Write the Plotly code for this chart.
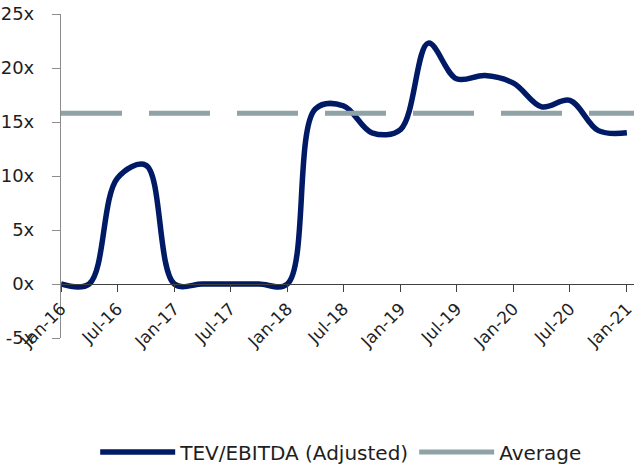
import plotly.graph_objects as go

dates = ["2016-01-01", "2016-04-01", "2016-07-01", "2016-10-01",
         "2017-01-01", "2017-04-01", "2017-07-01", "2017-10-01",
         "2018-01-01", "2018-04-01", "2018-07-01", "2018-10-01",
         "2019-01-01", "2019-04-01", "2019-07-01", "2019-10-01",
         "2020-01-01", "2020-04-01", "2020-07-01", "2020-10-01",
         "2021-01-01"]
tev_ebitda = [0.0, 0.0, 9.8, 11.0,
              0.0, 0.0, 0.0, 0.0,
              0.0, 16.2, 16.5, 14.0,
              14.3, 22.3, 19.0, 19.3,
              18.6, 16.4, 17.0, 14.2,
              14.0]
average_value = 15.8
x_end = "2021-01-24"

y_ticks = [-5, 0, 5, 10, 15, 20, 25]
y_tick_labels = ["-5x", "0x", "5x", "10x", "15x", "20x", "25x"]

FONT = "DejaVu Sans"
TEXT = "#1e1e1e"
NAVY = "#001a66"
GREY = "#8fa3a6"

fig = go.Figure()
fig.add_trace(go.Scatter(
    x=dates, y=tev_ebitda, mode="lines", name="TEV/EBITDA (Adjusted)",
    line=dict(color=NAVY, width=5.5, shape="spline", smoothing=1.0),
))
fig.add_trace(go.Scatter(
    x=[dates[0], x_end], y=[average_value, average_value], mode="lines", name="Average",
    line=dict(color=GREY, width=5, dash="61px,27px"), showlegend=False,
))
# legend entry for the average (solid sample, as in the reference legend)
fig.add_trace(go.Scatter(
    x=[None], y=[None], mode="lines", name="Average",
    line=dict(color=GREY, width=5),
))

fig.update_layout(
    width=634, height=465,
    margin=dict(l=61, r=0, t=14, b=127, autoexpand=False),
    plot_bgcolor="white", paper_bgcolor="white",
    font=dict(family=FONT, size=17, color=TEXT),
    showlegend=True,
    legend=dict(orientation="h", x=0.489, xanchor="center", y=-0.352, yanchor="middle",
                font=dict(size=20, color=TEXT), itemwidth=75, tracegroupgap=0),
    xaxis=dict(
        type="date", range=[dates[0], x_end],
        tickmode="linear", tick0=dates[0], dtick="M6", tickformat="%b-%y",
        tickangle=-45, ticks="outside", ticklen=7, tickcolor="#404040",
        showline=True, linecolor="#404040", linewidth=1.3,
        showgrid=False, zeroline=False, automargin=False,
        anchor="free", position=1/6, ticklabeloverflow="allow",
        tickfont=dict(size=17, color=TEXT),
    ),
    yaxis=dict(
        range=[-5, 25], tickmode="array", tickvals=y_ticks, ticktext=y_tick_labels,
        ticks="outside", ticklen=8, tickcolor="#8c8c8c",
        showline=True, linecolor="#8c8c8c", linewidth=1.3,
        showgrid=False, zeroline=False, ticklabelstandoff=14, automargin=False,
        tickfont=dict(size=18, color=TEXT),
    ),
)

fig.write_html("out.html", config={"displayModeBar": False},
               post_script="document.body.style.margin='0';")
